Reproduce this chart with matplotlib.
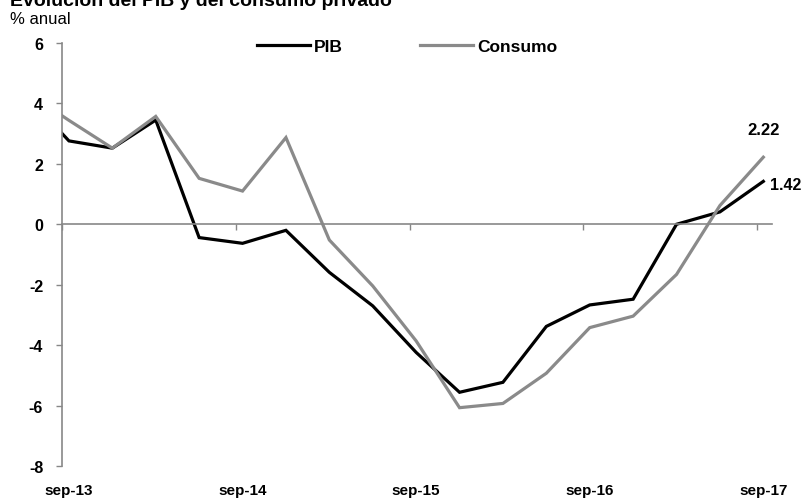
import matplotlib
matplotlib.use('Agg')
import matplotlib.pyplot as plt

# Quarterly periods (jun-13 lies just left of the visible axis range)
periods = ['jun-13', 'sep-13', 'dic-13', 'mar-14', 'jun-14', 'sep-14', 'dic-14',
           'mar-15', 'jun-15', 'sep-15', 'dic-15', 'mar-16', 'jun-16', 'sep-16',
           'dic-16', 'mar-17', 'jun-17', 'sep-17']
pib = [4.3, 2.76, 2.52, 3.45, -0.44, -0.63, -0.20, -1.59, -2.70, -4.24, -5.56,
       -5.23, -3.38, -2.67, -2.48, 0.00, 0.41, 1.42]
consumo = [4.4, 3.44, 2.52, 3.57, 1.52, 1.10, 2.87, -0.52, -2.04, -3.86, -6.07,
           -5.93, -4.93, -3.42, -3.04, -1.66, 0.62, 2.22]
tick_labels = ['sep-13', 'sep-14', 'sep-15', 'sep-16', 'sep-17']
y_ticks = [-8, -6, -4, -2, 0, 2, 4, 6]

plt.rcParams['font.family'] = ['Liberation Sans', 'DejaVu Sans']

W, H = 804, 502
fig = plt.figure(figsize=(W / 100, H / 100), dpi=100)
ax = fig.add_axes([62 / W, 1 - 467 / H, 710 / W, 423 / H])

x = list(range(-1, len(periods) - 1))
gray = '#8a8a8a'
axis_gray = '#878787'

ax.plot(x, pib, color='black', lw=2.3, label='PIB', solid_joinstyle='miter')
ax.plot(x, consumo, color=gray, lw=2.3, label='Consumo', solid_joinstyle='miter')

ax.set_xlim(-0.16, 16.2)
ax.set_ylim(-8, 6)

for s in ['top', 'right']:
    ax.spines[s].set_visible(False)
ax.spines['left'].set_color(axis_gray)
ax.spines['left'].set_linewidth(1.2)
ax.spines['bottom'].set_position(('data', 0))
ax.spines['bottom'].set_color(axis_gray)
ax.spines['bottom'].set_linewidth(1.2)

ax.set_yticks(y_ticks)
ax.set_yticklabels([str(v) for v in y_ticks], fontweight='bold', fontsize=11.5)
ax.tick_params(axis='y', direction='out', length=4.5, width=1, color=axis_gray, pad=9)

label_pos = [periods.index(l) - 1 for l in tick_labels]
ax.set_xticks([p - 0.15 for p in label_pos])
ax.set_xticklabels([])
ax.tick_params(axis='x', direction='out', length=4.5, width=1, color=axis_gray)

sec = ax.secondary_xaxis('bottom')
sec.spines['bottom'].set_visible(False)
sec.set_xticks(label_pos)
sec.set_xticklabels(tick_labels, fontweight='bold', fontsize=11)
sec.tick_params(axis='x', length=0, pad=12)

leg = ax.legend(loc='center left', bbox_to_anchor=(257 / W, 1 - 47 / H),
                bbox_transform=fig.transFigure, ncol=2, frameon=False,
                borderpad=0, borderaxespad=0,
                prop={'weight': 'bold', 'size': 12.5}, handlelength=3.05,
                handletextpad=0.2, columnspacing=4.5)

ax.annotate(f'{consumo[-1]:.2f}', xy=(x[-1], consumo[-1]), xytext=(0, 20),
            textcoords='offset points', ha='center', va='center',
            fontweight='bold', fontsize=12)
ax.annotate(f'{pib[-1]:.2f}', xy=(x[-1], pib[-1]), xytext=(4.5, -2),
            textcoords='offset points', ha='left', va='center',
            fontweight='bold', fontsize=11.5)

fig.text(10 / W, 1 - 6.5 / H, 'Evolución del PIB y del consumo privado',
         fontweight='bold', fontsize=14, va='baseline', ha='left')
fig.text(10 / W, 1 - 20 / H, '% anual', fontsize=12, va='center', ha='left')

fig.savefig('out.png', dpi=100)
